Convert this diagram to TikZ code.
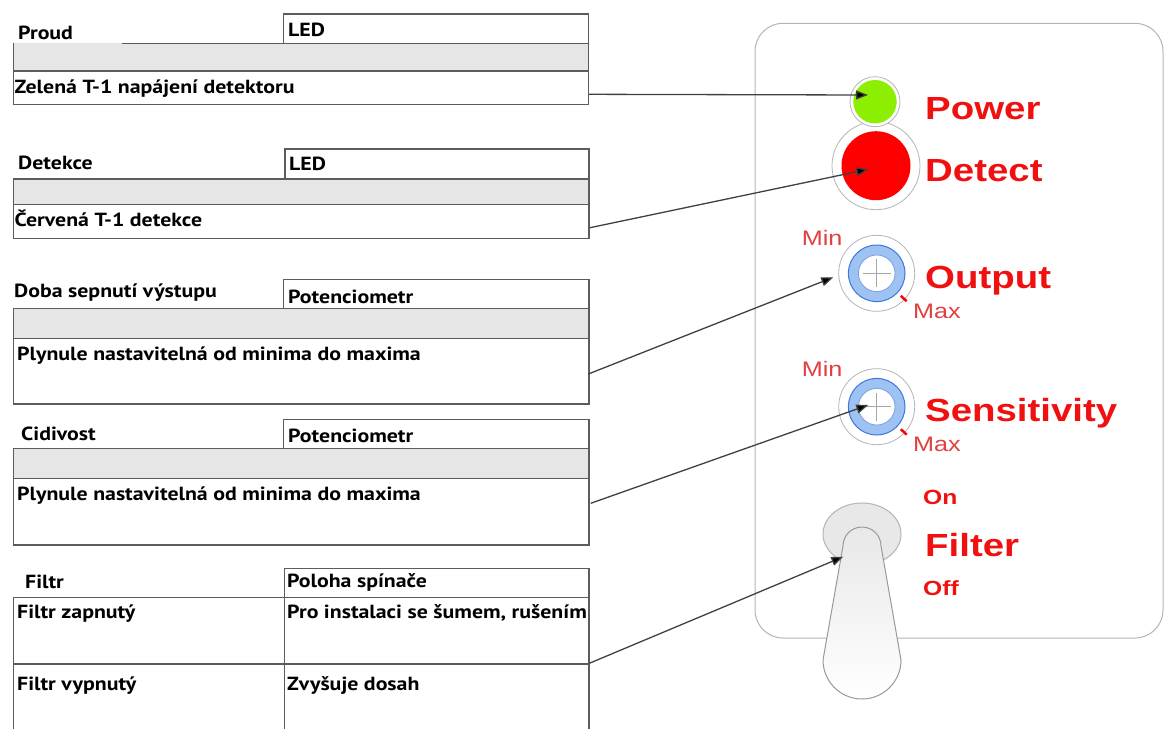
\documentclass[tikz,border=0pt]{standalone}
\usepackage{fontspec}
\usepackage{graphicx}
\setmainfont{PT Sans}
\newfontfamily\panelfont{Liberation Sans}
\usetikzlibrary{arrows.meta}

\definecolor{framegray}{HTML}{5C5C5C}
\definecolor{bandgray}{HTML}{E6E6E6}
\definecolor{panelgray}{HTML}{B4B4B4}
\definecolor{ledgreen}{HTML}{8CEE00}
\definecolor{ledred}{HTML}{FF0000}
\definecolor{panelred}{HTML}{F01010}
\definecolor{scalered}{HTML}{E04040}
\definecolor{knobfill}{HTML}{9EC2F2}
\definecolor{knobedge}{HTML}{3C78DC}
\definecolor{wiregray}{HTML}{404040}

\tikzset{
  frame/.style={draw=framegray, line width=1.4pt},
  band/.style={fill=bandgray},
  lbl/.style={anchor=base west, inner sep=0pt, font=\bfseries\fontsize{19}{21}\selectfont},
  big/.style={anchor=base west, inner sep=0pt, text=panelred,
    font=\panelfont\bfseries\fontsize{32}{36}\selectfont},
  small/.style={anchor=base west, inner sep=0pt, text=panelred,
    font=\panelfont\bfseries\fontsize{20.5}{24}\selectfont},
  minmax/.style={anchor=base west, inner sep=0pt, text=scalered,
    font=\panelfont\fontsize{21}{24}\selectfont},
  ptr/.style={draw=wiregray, line width=1.3pt,
    -{Triangle[length=12pt,width=9pt,fill=black]}},
  ring/.style={draw=panelgray, line width=0.8pt},
}
\newcommand{\wide}[1]{\scalebox{1.2}[1]{#1}}
\newcommand{\boxtxt}[1]{\scalebox{1.15}[1]{#1}}

\begin{document}
\begin{tikzpicture}[x=1pt,y=-1pt]
\useasboundingbox (0,0) rectangle (1165,729);

% ---- Proud / LED ----
\fill[band] (13.4,43.3) rectangle (588.6,71);
\draw[frame] (283.6,14) rectangle (588.6,43.3);
\draw[frame] (121.7,43.3) -- (283.6,43.3);
\draw[frame] (13.4,43.3) -- (13.4,71) (588.6,43.3) -- (588.6,71);
\draw[frame] (13.4,71) rectangle (588.6,104.3);
\node[lbl] (t1a) at (18,39) {\boxtxt{Proud}};
\node[lbl] (t1b) at (288,36.7) {\boxtxt{LED}};
\node[lbl] (t1c) at (14.5,93.3) {\boxtxt{Zelená T-1 napájení detektoru}};

% ---- Detekce / LED ----
\fill[band] (13.4,179) rectangle (589,204.3);
\draw[frame] (285,149) rectangle (589,179);
\draw[frame] (13.4,179) rectangle (589,238.3);
\draw[frame] (13.4,204.3) -- (589,204.3);
\node[lbl] (t2a) at (18,169) {\boxtxt{Detekce}};
\node[lbl] (t2b) at (289,170) {\boxtxt{LED}};
\node[lbl] (t2c) at (14.5,226) {\boxtxt{Červená T-1 detekce}};

% ---- Doba sepnutí výstupu / Potenciometr ----
\fill[band] (13.4,308.3) rectangle (589,338.3);
\draw[frame] (283.6,279.3) rectangle (589,308.3);
\draw[frame] (13.4,308.3) rectangle (589,404);
\draw[frame] (13.4,338.3) -- (589,338.3);
\node[lbl] (t3a) at (14,297.7) {\boxtxt{Doba sepnutí výstupu}};
\node[lbl] (t3b) at (288,303.3) {\boxtxt{Potenciometr}};
\node[lbl] (t3c) at (17,360) {\boxtxt{Plynule nastavitelná od minima do maxima}};

% ---- Citlivost / Potenciometr ----
\fill[band] (13.4,448.3) rectangle (589,478.3);
\draw[frame] (283.6,419.3) rectangle (589,448.3);
\draw[frame] (13.4,448.3) rectangle (589,545);
\draw[frame] (13.4,478.3) -- (589,478.3);
\node[lbl] (t4a) at (21,440) {\boxtxt{Cidivost}};
\node[lbl] (t4b) at (288,442.7) {\boxtxt{Potenciometr}};
\node[lbl] (t4c) at (17,500) {\boxtxt{Plynule nastavitelná od minima do maxima}};

% ---- Filtr / Poloha spínače ----
\draw[frame] (284.5,568.3) rectangle (589,597.7);
\draw[frame] (13.4,729) -- (13.4,597.7) -- (589,597.7) -- (589,729);
\draw[frame] (13.4,664) -- (589,664);
\draw[frame] (284.5,597.7) -- (284.5,729);
\node[lbl] (t5a) at (25,588.3) {\boxtxt{Filtr}};
\node[lbl] (t5b) at (287,587.3) {\boxtxt{Poloha spínače}};
\node[lbl] (t5c) at (17,618.3) {\boxtxt{Filtr zapnutý}};
\node[lbl] (t5d) at (287,618.3) {\boxtxt{Pro instalaci se šumem, rušením}};
\node[lbl] (t5e) at (17,690) {\boxtxt{Filtr vypnutý}};
\node[lbl] (t5f) at (287,690) {\boxtxt{Zvyšuje dosah}};

% ---- front panel ----
\draw[draw=panelgray, line width=1pt, rounded corners=28pt] (755,23.3) rectangle (1163,638);

% LEDs
\draw[ring, fill=white] (876,165.7) circle (44);
\draw[ring, fill=white] (875,101.7) circle (25);
\fill[ledgreen] (875,101.7) circle (21.7);
\fill[ledred] (876,165.7) circle (34.5);

% potentiometers
\foreach \cy/\nm in {273.3/out, 406.7/sen} {
  \draw[ring] (876.7,\cy) circle (38);
  \fill[knobfill, draw=knobedge, line width=1pt] (876.7,\cy) circle (28.3);
  \draw[fill=white, draw=knobedge!70, line width=0.8pt] (876.7,\cy) circle (18.3);
  \draw[gray!70, line width=0.8pt] (876.7,\cy-14) -- (876.7,\cy+14)
        (862.7,\cy) -- (890.7,\cy);
  \draw[ledred, line width=2.5pt] (876.7,\cy) ++(43:33) -- ++(43:8);
}

% toggle switch
\draw[draw=panelgray, fill=gray!18, line width=1pt] (862,534) ellipse [x radius=39, y radius=31];
\draw[draw=gray!80, line width=1pt, top color=gray!18, bottom color=white]
  (843,546) arc[start angle=180, end angle=360, radius=19]
  -- (901,660) arc[start angle=0, end angle=180, radius=39] -- cycle;

% panel labels
\node[big] (pw) at (925,119.3) {\wide{Power}};
\node[big] (dt) at (925,181.7) {\wide{Detect}};
\node[big] (op) at (925,288.3) {\wide{Output}};
\node[big] (sn) at (925,421.7) {\wide{Sensitivity}};
\node[big] (fl) at (925,556.7) {\wide{Filter}};
\node[small] (on) at (923,504) {\wide{On}};
\node[small] (of) at (923,595) {\wide{Off}};
\node[minmax] (mn1) at (801.7,245) {\wide{Min}};
\node[minmax] (mx1) at (913,318) {\wide{Max}};
\node[minmax] (mn2) at (801.7,376.7) {\wide{Min}};
\node[minmax] (mx2) at (913,451.7) {\wide{Max}};

% pointers from the description boxes to the panel elements
\coordinate (s1) at (589,94.3);   \coordinate (e1) at (868,95);
\coordinate (s2) at (590,227.7);  \coordinate (e2) at (868.3,169.3);
\coordinate (s3) at (588.3,374);  \coordinate (e3) at (833.3,277.3);
\coordinate (s4) at (590.7,503.3); \coordinate (e4) at (868.3,405);
\coordinate (s5) at (589.3,663.3); \coordinate (e5) at (843.3,556.7);
\foreach \i in {1,...,5} { \draw[ptr] (s\i) -- (e\i); }
\end{tikzpicture}
\end{document}
